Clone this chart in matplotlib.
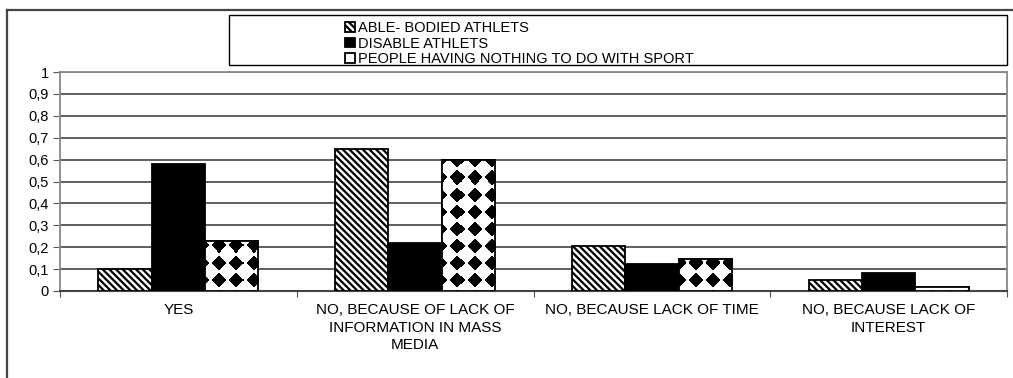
import numpy as np
import matplotlib
matplotlib.use("Agg")
import matplotlib.pyplot as plt
import matplotlib.patches as mpatches
from matplotlib.lines import Line2D

plt.rcParams['font.family'] = ['Liberation Sans', 'DejaVu Sans']
plt.rcParams['hatch.linewidth'] = 1.6

categories = [
    "YES",
    "NO, BECAUSE OF LACK OF\nINFORMATION IN MASS\nMEDIA",
    "NO, BECAUSE LACK OF TIME",
    "NO, BECAUSE LACK OF\nINTEREST",
]
series_names = [
    "ABLE- BODIED ATHLETS",
    "DISABLE ATHLETS",
    "PEOPLE HAVING NOTHING TO DO WITH SPORT",
]
able_bodied = [0.10, 0.65, 0.205, 0.05]
disabled = [0.58, 0.22, 0.125, 0.083]
no_sport = [0.23, 0.60, 0.148, 0.017]
y_ticks = [0, 0.1, 0.2, 0.3, 0.4, 0.5, 0.6, 0.7, 0.8, 0.9, 1]
y_tick_labels = ["0", "0,1", "0,2", "0,3", "0,4", "0,5", "0,6", "0,7", "0,8", "0,9", "1"]

W, H, DPI = 1013, 378, 100
fig = plt.figure(figsize=(W / DPI, H / DPI), dpi=DPI)
ax = fig.add_axes([60 / W, 1 - 291 / H, 947 / W, 219 / H])

x = np.arange(len(categories))
bw = 0.225
b1 = ax.bar(x - bw, able_bodied, bw, facecolor='white', edgecolor='black',
            hatch='\\' * 5, linewidth=1.3, zorder=3, label=series_names[0])
b2 = ax.bar(x, disabled, bw, facecolor='black', edgecolor='black',
            linewidth=1.3, zorder=3, label=series_names[1])
b3 = ax.bar(x + bw, no_sport, bw, facecolor='white', edgecolor='black',
            linewidth=1.3, zorder=3, label=series_names[2])

# diamond texture, one texture pixel per screen pixel, clipped into each bar
pw, ph = 947, 219
period = 17
yy, xx = np.mgrid[0:ph, 0:pw]
dx = (xx + 3) % period - period / 2
dy = (yy + 5) % period - period / 2
tex = np.where(np.abs(dx) + np.abs(dy) < 8.0, 0.0, 1.0)
for bar in b3:
    im = ax.imshow(tex, cmap='gray', vmin=0, vmax=1, extent=(-0.5, 3.5, 0, 1),
                   aspect='auto', interpolation='nearest', zorder=3.5)
    im.set_clip_path(bar)
    edge = mpatches.Rectangle(bar.get_xy(), bar.get_width(), bar.get_height(),
                              fill=False, edgecolor='black', linewidth=1.3, zorder=4)
    ax.add_patch(edge)
ax.set_xlim(-0.5, len(categories) - 0.5)
ax.set_ylim(0, 1)

ax.set_yticks(y_ticks)
ax.set_yticklabels(y_tick_labels)
ax.yaxis.grid(True, color='#333333', linewidth=1.1, zorder=0)
ax.set_axisbelow(True)

ax.set_xticks(np.arange(len(categories) + 1) - 0.5)
ax.set_xticklabels([])
ax.set_xticks(x, minor=True)
ax.set_xticklabels(categories, minor=True, fontsize=11, linespacing=1.3, va='top')
ax.tick_params(axis='x', which='minor', length=0, pad=9)
ax.tick_params(axis='x', which='major', length=4, direction='out', color='#555555')
ax.tick_params(axis='y', length=5, direction='out', color='#555555', labelsize=10.5, pad=3)

for s in ['left', 'right', 'top']:
    ax.spines[s].set_color('#888888')
    ax.spines[s].set_linewidth(1.3)
ax.spines['bottom'].set_color('#444444')
ax.spines['bottom'].set_linewidth(1.5)

# legend with its own box
box = mpatches.Rectangle((229 / W, 1 - 65 / H), 778 / W, 50 / H, transform=fig.transFigure,
                         fill=False, edgecolor='black', linewidth=1.0)
fig.add_artist(box)
fig.legend(handles=[b1, b2, b3], loc='upper left', bbox_to_anchor=(338 / W, 1 - 14 / H),
           frameon=False, fontsize=10.5, handlelength=0.65, handleheight=0.65,
           handletextpad=0.25, labelspacing=0.1, borderpad=0.0)

# outer chart frame
fig.add_artist(Line2D([7 / W, 1], [1 - 10 / H, 1 - 10 / H], transform=fig.transFigure,
                      color='#444444', linewidth=1.6))
fig.add_artist(Line2D([7 / W, 7 / W], [1 - 10 / H, 0], transform=fig.transFigure,
                      color='#444444', linewidth=1.6))

fig.savefig("out.png", dpi=DPI)
